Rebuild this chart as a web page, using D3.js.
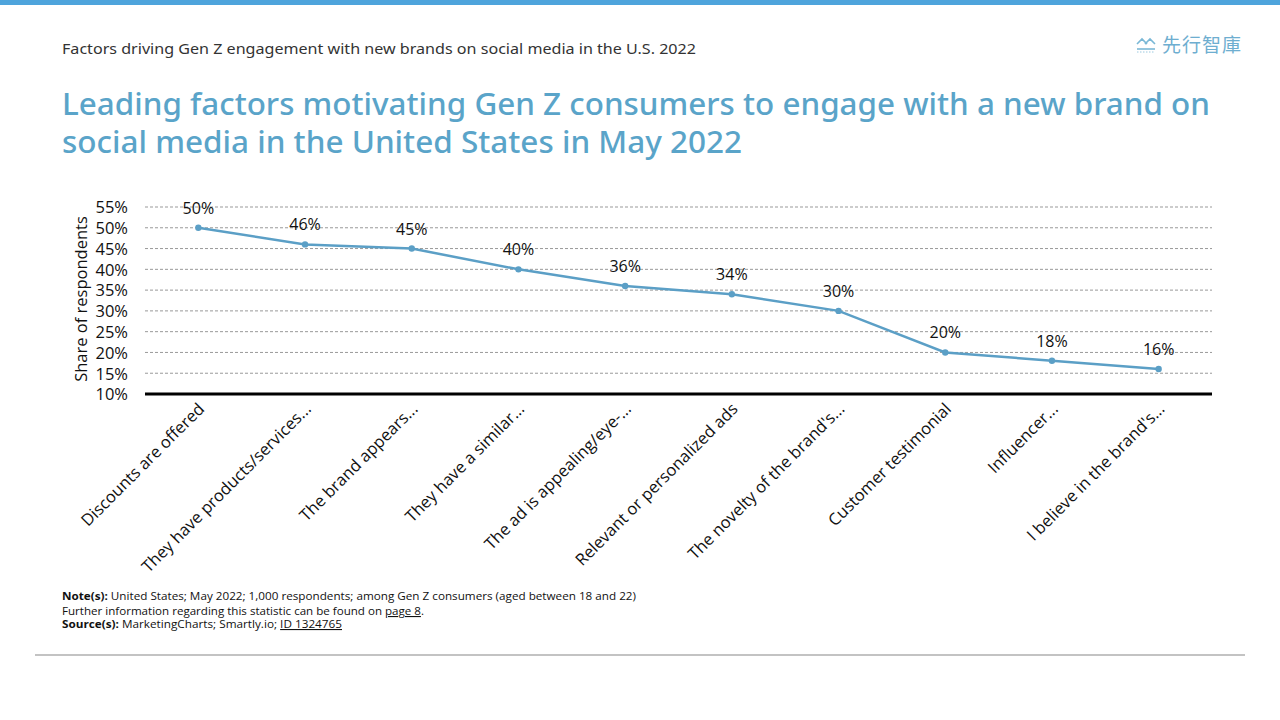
<!DOCTYPE html>
<html><head><meta charset="utf-8">
<script src="https://cdn.jsdelivr.net/npm/d3@7/dist/d3.min.js"></script>
<style>body{margin:0;background:#fff;}svg{display:block;}</style>
</head><body>
<svg id="c" width="1280" height="720"></svg>
<script>
const categories = ["Discounts are offered","They have products/services...","The brand appears...","They have a similar...","The ad is appealing/eye-...","Relevant or personalized ads","The novelty of the brand's...","Customer testimonial","Influencer...","I believe in the brand's..."];
const values = [50,46,45,40,36,34,30,20,18,16];
const yTicks = [10,15,20,25,30,35,40,45,50,55];

const svg = d3.select("#c");
const W=1280,H=720;
svg.append("rect").attr("x",0).attr("y",0).attr("width",W).attr("height",5).attr("fill","#4ea4dc");

svg.append("text").attr("x",62).attr("y",54).attr("font-family","Noto Sans").attr("font-size",15)
  .attr("fill","#333").attr("textLength",634).attr("lengthAdjust","spacingAndGlyphs")
  .text("Factors driving Gen Z engagement with new brands on social media in the U.S. 2022");

// logo
const lg = svg.append("g").attr("transform","translate(1136,37)");
lg.append("path").attr("d","M1,7 L6,2 L11,7 M9,7 L14,2 L19,7").attr("fill","none").attr("stroke","#7ab8d6").attr("stroke-width",1.6);
lg.append("line").attr("x1",1).attr("x2",19).attr("y1",12).attr("y2",12).attr("stroke","#7ab8d6").attr("stroke-width",1.6);
lg.append("line").attr("x1",1).attr("x2",19).attr("y1",15).attr("y2",15).attr("stroke","#9cc9e0").attr("stroke-width",1).attr("stroke-dasharray","1.5,1.5");
svg.append("text").attr("x",1162).attr("y",52).attr("font-family","Noto Sans CJK TC").attr("font-size",19)
  .attr("fill","#6eaed0").attr("letter-spacing",1).text("先行智庫");

const tc="#5aa4c9";
svg.append("text").attr("x",62).attr("y",115).attr("font-family","Noto Sans").attr("font-size",31).attr("font-weight",500)
  .attr("fill",tc).attr("textLength",1148).attr("lengthAdjust","spacingAndGlyphs")
  .text("Leading factors motivating Gen Z consumers to engage with a new brand on");
svg.append("text").attr("x",62).attr("y",153).attr("font-family","Noto Sans").attr("font-size",31).attr("font-weight",500)
  .attr("fill",tc).attr("textLength",680).attr("lengthAdjust","spacingAndGlyphs")
  .text("social media in the United States in May 2022");

const x0=145,x1=1212,yTop=207,yBot=394;
const x = d3.scaleBand().domain(categories).range([x0,x1]);
const y = d3.scaleLinear().domain([10,55]).range([yBot,yTop]);

const g = svg.append("g");
g.selectAll(".grid").data(yTicks.filter(t=>t>10)).join("line")
  .attr("x1",x0).attr("x2",x1).attr("y1",d=>y(d)).attr("y2",d=>y(d))
  .attr("stroke","#999").attr("stroke-width",1).attr("stroke-dasharray","3,2");

const yAxis = g.append("g").attr("transform",`translate(${x0-17},0)`)
  .call(d3.axisLeft(y).tickValues(yTicks).tickFormat(d=>d+"%").tickSize(0).tickPadding(0));
yAxis.select(".domain").remove();
yAxis.selectAll("text").attr("font-family","Open Sans").attr("font-size",16.5).attr("fill","#111").attr("dy","0.35em");

g.append("line").attr("x1",x0).attr("x2",x1).attr("y1",yBot).attr("y2",yBot).attr("stroke","#000").attr("stroke-width",3);

const xAxis = g.append("g").attr("transform",`translate(0,${yBot})`)
  .call(d3.axisBottom(x).tickSize(0).tickPadding(0));
xAxis.select(".domain").remove();
xAxis.selectAll("text").attr("font-family","Open Sans").attr("font-size",16.5).attr("fill","#111")
  .attr("text-anchor","end").attr("dy",null).attr("y",0)
  .attr("transform","translate(7,16) rotate(-45)");

svg.append("text").attr("transform","translate(87,299) rotate(-90)").attr("text-anchor","middle")
  .attr("font-family","Open Sans").attr("font-size",16.5).attr("fill","#111").text("Share of respondents");

const cx = (d,i)=>x(categories[i])+x.bandwidth()/2;
const line = d3.line().x((d,i)=>cx(d,i)).y(d=>y(d));
g.append("path").datum(values).attr("d",line).attr("fill","none").attr("stroke","#5b9fc6").attr("stroke-width",2.5);
g.selectAll(".pt").data(values).join("circle").attr("cx",cx).attr("cy",d=>y(d)).attr("r",3.2).attr("fill","#5b9fc6");
g.selectAll(".lbl").data(values).join("text").attr("x",cx).attr("y",d=>y(d)-14)
  .attr("text-anchor","middle").attr("font-family","Open Sans").attr("font-size",16).attr("fill","#111").text(d=>d+"%");

// notes
const nf="Open Sans";
const n1=svg.append("text").attr("x",62).attr("y",600).attr("font-family",nf).attr("font-size",11).attr("fill","#111")
  .attr("textLength",574).attr("lengthAdjust","spacingAndGlyphs");
n1.append("tspan").attr("font-weight","bold").text("Note(s): ");
n1.append("tspan").text("United States;  May 2022; 1,000 respondents;  among Gen  Z consumers (aged between  18 and 22)");
const n2=svg.append("text").attr("x",62).attr("y",615).attr("font-family",nf).attr("font-size",11).attr("fill","#111")
  .attr("textLength",362).attr("lengthAdjust","spacingAndGlyphs");
n2.append("tspan").text("Further  information regarding this statistic can be found on ");
n2.append("tspan").attr("text-decoration","underline").text("page 8");
n2.append("tspan").text(".");
const n3=svg.append("text").attr("x",62).attr("y",628).attr("font-family",nf).attr("font-size",11).attr("fill","#111")
  .attr("textLength",280).attr("lengthAdjust","spacingAndGlyphs");
n3.append("tspan").attr("font-weight","bold").text("Source(s): ");
n3.append("tspan").text(" MarketingCharts; Smartly.io; ");
n3.append("tspan").attr("text-decoration","underline").text("ID 1324765");

svg.append("line").attr("x1",35).attr("x2",1245).attr("y1",655).attr("y2",655).attr("stroke","#888").attr("stroke-width",1.2);
</script>
</body></html>
